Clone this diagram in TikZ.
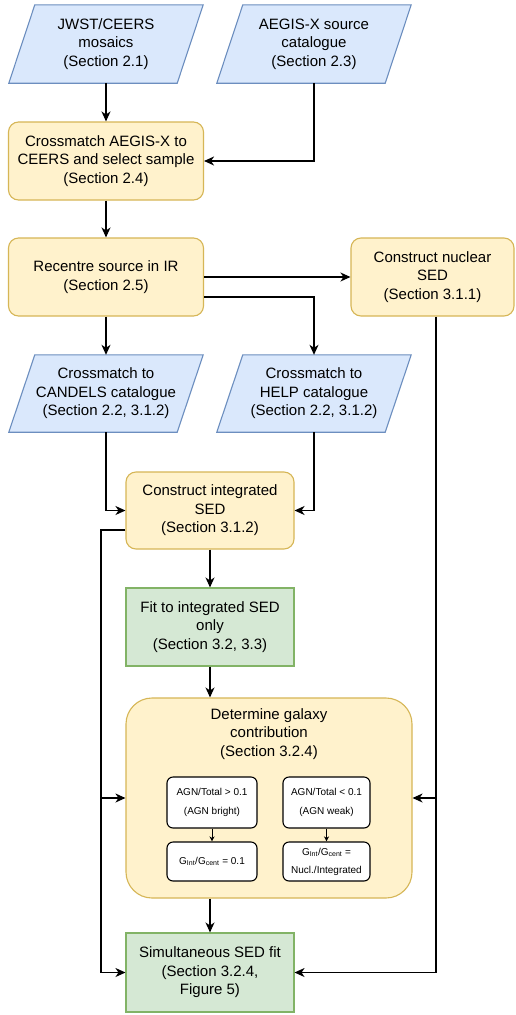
\documentclass[tikz,border=0pt]{standalone}
\usepackage{fontspec}
\setmainfont{Liberation Sans}
\usetikzlibrary{arrows.meta,backgrounds,calc}
\definecolor{bfill}{HTML}{DAE8FC}\definecolor{bline}{HTML}{6C8EBF}
\definecolor{yfill}{HTML}{FFF2CC}\definecolor{yline}{HTML}{D6B656}
\definecolor{gfill}{HTML}{D5E8D4}\definecolor{gline}{HTML}{82B366}
\tikzset{
 base/.style={align=center, font=\fontsize{15}{18.5}\selectfont, inner sep=0pt},
 ybox/.style={base, draw=yline, fill=yfill, rounded corners=10pt, line width=1.1pt},
 gbox/.style={base, draw=gline, fill=gfill, line width=1.1pt},
 ptext/.style={base},
 para/.style={draw=bline, fill=bfill, line width=1.1pt},
 ibox/.style={align=center, font=\fontsize{10}{19}\selectfont, draw=black, fill=white, rounded corners=6pt, line width=1.1pt, inner sep=0pt},
 conn/.style={line width=1.2pt, -{Stealth[length=10pt,width=9pt,inset=3pt]}},
 plain/.style={line width=1.2pt},
 sconn/.style={line width=1pt, -{Stealth[length=5pt,width=5pt,inset=1.5pt]}},
}
\begin{document}
\begin{tikzpicture}[x=1pt,y=-1pt]
\useasboundingbox (0,0) rectangle (515,1015);
% input parallelograms (text nodes; shape drawn on background)
\node[ptext, minimum width=194, minimum height=78] (jwst) at (106,44) {JWST/CEERS\\mosaics\\(Section 2.1)};
\node[ptext, minimum width=194, minimum height=78] (aegis) at (314,44) {AEGIS-X source\\catalogue\\(Section 2.3)};
\node[ptext, minimum width=194, minimum height=77] (candels) at (106,393.5) {Crossmatch to\\CANDELS catalogue\\(Section 2.2, 3.1.2)};
\node[ptext, minimum width=194, minimum height=77] (help) at (314,393.5) {Crossmatch to\\HELP catalogue\\(Section 2.2, 3.1.2)};
% process boxes
\node[ybox, minimum width=195, minimum height=78] (cross) at (106,161) {Crossmatch AEGIS-X to\\CEERS and select sample\\(Section 2.4)};
\node[ybox, minimum width=195, minimum height=78] (recentre) at (106,277) {Recentre source in IR\\(Section 2.5)};
\node[ybox, minimum width=163, minimum height=78] (nuclear) at (432.5,277) {Construct nuclear\\SED\\(Section 3.1.1)};
\node[ybox, minimum width=168, minimum height=77] (integ) at (210,510.5) {Construct integrated\\SED\\(Section 3.1.2)};
\node[gbox, minimum width=168, minimum height=78] (fit) at (210,627) {Fit to integrated SED\\only\\(Section 3.2, 3.3)};
\node[ybox, rounded corners=26pt, minimum width=286, minimum height=200] (det) at (269,798) {};
\node[base] (dettext) at (269,734) {Determine galaxy\\contribution\\(Section 3.2.4)};
\node[ibox, minimum width=90, minimum height=51] (ib1) at (212,802.5) {AGN/Total {>} 0.1\\(AGN bright)};
\node[ibox, minimum width=90, minimum height=39] (ib2) at (212,861.5) {G\textsubscript{Int}/G\textsubscript{cent} = 0.1};
\node[ibox, minimum width=87, minimum height=51] (ib3) at (326.5,802.5) {AGN/Total {<} 0.1\\(AGN weak)};
\node[ibox, font=\fontsize{10}{18}\selectfont, minimum width=87, minimum height=39] (ib4) at (326.5,861.5) {G\textsubscript{Int}/G\textsubscript{cent} =\\Nucl./Integrated};
\node[gbox, minimum width=168, minimum height=79] (simul) at (210,972.5) {Simultaneous SED fit\\(Section 3.2.4,\\Figure 5)};
\begin{scope}[on background layer]
\fill[white] (0,0) rectangle (515,1015);
\foreach \n in {jwst,aegis,candels,help}{
 \draw[para] ([xshift=26pt]\n.north west) -- (\n.north east) -- ([xshift=-26pt]\n.south east) -- (\n.south west) -- cycle;
}
\end{scope}
% connectors
\draw[conn] (jwst) -- (cross);
\draw[conn] (aegis.south) |- (cross.east);
\draw[conn] (cross) -- (recentre);
\draw[conn] (recentre) -- (candels);
\draw[conn] (recentre.east) -- (nuclear.west);
\draw[conn] ([yshift=-20pt]recentre.east) -| (help.north);
\draw[conn] (candels.south) |- (integ.west);
\draw[conn] (help.south) |- (integ.east);
\draw[conn] (integ) -- (fit);
\draw[conn] (fit.south) -- (fit.south |- det.north);
\draw[conn] (det.south -| fit.south) -- (simul.north);
\draw[sconn] (ib1) -- (ib2);
\draw[sconn] (ib3) -- (ib4);
\coordinate (lbend) at (101,530);
\draw[conn] ([yshift=-19.5pt]integ.west) -- (lbend) |- (simul.west);
\draw[conn] (lbend |- det.west) -- (det.west);
\coordinate (rtop) at ([xshift=3.5pt]nuclear.south);
\draw[conn] (rtop) |- (simul.east);
\draw[conn] (rtop |- det.east) -- (det.east);
\end{tikzpicture}
\end{document}
